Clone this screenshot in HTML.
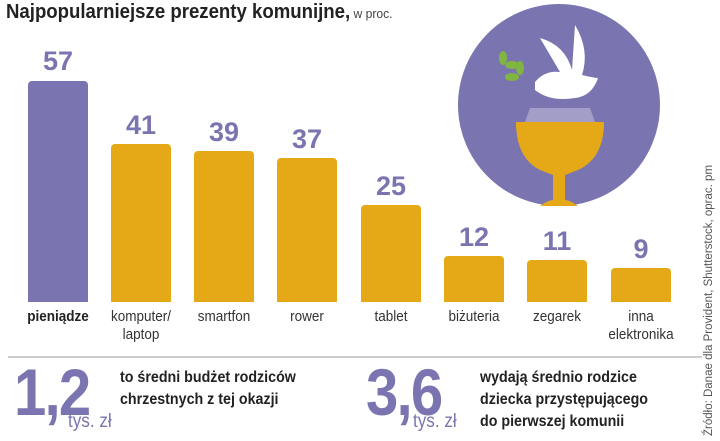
<!DOCTYPE html>
<html><head><meta charset="utf-8"><style>
body{margin:0;width:720px;height:441px;background:#fff;position:relative;overflow:hidden;font-family:"Liberation Sans",sans-serif;}
.a{position:absolute;}
.bar{position:absolute;bottom:139px;width:60px;border-radius:4px 4px 0 0;background:#e5a918;}
.v{position:absolute;width:60px;text-align:center;font-weight:bold;font-size:27px;color:#7a75b0;}
.l{position:absolute;width:84px;text-align:center;font-size:15px;color:#333;line-height:18px;top:308px;transform:scaleX(.9);}
.big{position:absolute;font-size:66px;font-weight:bold;color:#7a75b0;transform:scaleX(.88);transform-origin:left;letter-spacing:-2px;}
.t{position:absolute;font-size:15.5px;font-weight:bold;color:#222;line-height:22px;transform:scaleX(.92);transform-origin:left;}
.u{position:absolute;font-size:19px;color:#7a75b0;transform:scaleX(.9);transform-origin:left;}
</style></head><body>
<div class="a" style="left:6px;top:1px;font-size:20px;font-weight:bold;color:#222;white-space:nowrap;transform:scaleX(.93);transform-origin:left">Najpopularniejsze prezenty komunijne,<span style="font-weight:normal;font-size:13px;color:#444"> w proc.</span></div>
<svg class="a" style="left:0;top:0" width="720" height="441">
<circle cx="559" cy="105" r="101" fill="#7a75b0"/>
<polygon points="530,108 590,108 602,142 518,142" fill="#fff" fill-opacity="0.3"/>
<path d="M535 82 Q545 70 560 72 L540 38 Q565 45 572 70 L575 25 Q590 50 582 75 Q595 78 598 78 Q592 96 575 98 Q550 102 535 90 Z" fill="#fff"/>
<g fill="#7fb540"><ellipse cx="503" cy="58" rx="4" ry="7"/><ellipse cx="512" cy="65" rx="7" ry="4"/><ellipse cx="520" cy="68" rx="4" ry="7"/><ellipse cx="512" cy="77" rx="7" ry="4"/></g>
<path d="M516 122 H604 Q604 158 578 170 L565 175 V200 H553 V175 L540 170 Q516 158 516 122Z" fill="#e5a918"/>
<path d="M540 206 Q559 192 578 206Z" fill="#e5a918"/>
<line x1="8" y1="357" x2="702" y2="357" stroke="#ccc" stroke-width="2"/>
</svg>
<div class="bar" style="left:28px;height:221px;background:#7a75b0"></div>
<div class="bar" style="left:111px;height:158px"></div>
<div class="bar" style="left:194px;height:151px"></div>
<div class="bar" style="left:277px;height:144px"></div>
<div class="bar" style="left:361px;height:97px"></div>
<div class="bar" style="left:444px;height:46px"></div>
<div class="bar" style="left:527px;height:42px"></div>
<div class="bar" style="left:611px;height:34px"></div>
<div class="v" style="left:28px;top:46px">57</div>
<div class="v" style="left:111px;top:110px">41</div>
<div class="v" style="left:194px;top:117px">39</div>
<div class="v" style="left:277px;top:124px">37</div>
<div class="v" style="left:361px;top:171px">25</div>
<div class="v" style="left:444px;top:222px">12</div>
<div class="v" style="left:527px;top:226px">11</div>
<div class="v" style="left:611px;top:234px">9</div>
<div class="l" style="left:16px;font-weight:bold;color:#222">pieniądze</div>
<div class="l" style="left:99px">komputer/<br>laptop</div>
<div class="l" style="left:182px">smartfon</div>
<div class="l" style="left:265px">rower</div>
<div class="l" style="left:349px">tablet</div>
<div class="l" style="left:432px">biżuteria</div>
<div class="l" style="left:515px">zegarek</div>
<div class="l" style="left:599px">inna<br>elektronika</div>
<div class="big" style="left:14px;top:354px">1,2</div>
<div class="u" style="left:68px;top:411px">tys. zł</div>
<div class="t" style="left:120px;top:367px">to średni budżet rodziców<br>chrzestnych z tej okazji</div>
<div class="big" style="left:366px;top:354px">3,6</div>
<div class="u" style="left:413px;top:411px">tys. zł</div>
<div class="t" style="left:480px;top:367px">wydają średnio rodzice<br>dziecka przystępującego<br>do pierwszej komunii</div>
<div class="a" style="left:703px;top:436px;transform:rotate(-90deg);transform-origin:left top;font-size:11.5px;color:#555;white-space:nowrap">Źródło: Danae dla Provident, Shutterstock, oprac. pm</div>
</body></html>
